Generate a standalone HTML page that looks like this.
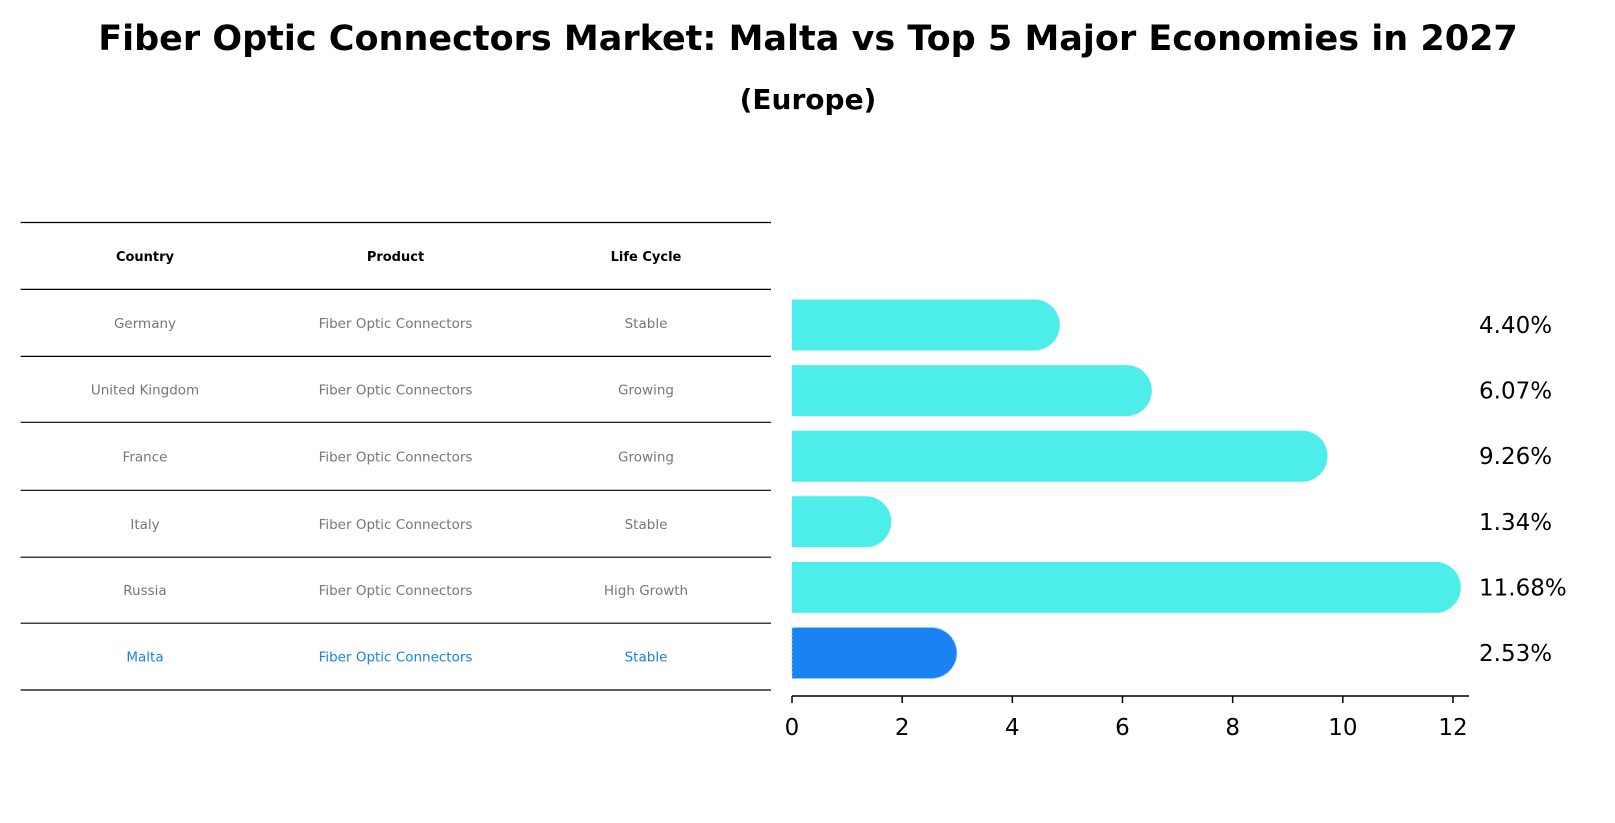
<!DOCTYPE html>
<html><head><meta charset="utf-8"><style>
body{margin:0;background:#fff;}
svg{display:block;font-family:"DejaVu Sans","Liberation Sans",sans-serif;}
</style></head><body>
<svg width="1615" height="823" viewBox="0 0 1615 823">
<text x="808" y="50" text-anchor="middle" font-size="35" font-weight="bold">Fiber Optic Connectors Market: Malta vs Top 5 Major Economies in 2027</text>
<text x="808" y="109" text-anchor="middle" font-size="28" font-weight="bold">(Europe)</text>
<g id="table"></g>
<g id="bars"></g>
</svg>
<script>
const countries=["Germany","United Kingdom","France","Italy","Russia","Malta"];
const products=["Fiber Optic Connectors","Fiber Optic Connectors","Fiber Optic Connectors","Fiber Optic Connectors","Fiber Optic Connectors","Fiber Optic Connectors"];
const lifecycles=["Stable","Growing","Growing","Stable","High Growth","Stable"];
const values=[4.40,6.07,9.26,1.34,11.68,2.53];
const ticks=[0,2,4,6,8,10,12];
const NS="http://www.w3.org/2000/svg";
function mk(tag,attrs,parent,txt){const e=document.createElementNS(NS,tag);for(const k in attrs)e.setAttribute(k,attrs[k]);if(txt!==undefined)e.textContent=txt;parent.appendChild(e);return e;}
const table=document.getElementById('table');
const lineY=[222.5,289.4,356.4,422.3,490.3,557.2,623.2,690];
const colX=[145,395.5,646];
lineY.forEach(y=>{const l=mk('line',{x1:20.6,x2:771,y1:y,y2:y,stroke:'#000','stroke-width':1.2},table);

});
["Country","Product","Life Cycle"].forEach((h,i)=>{const t=mk('text',{x:colX[i],y:(lineY[0]+lineY[1])/2+5,'text-anchor':'middle','font-size':13,'font-weight':'bold'},table,h);

});
countries.forEach((c,r)=>{const y=(lineY[r+1]+lineY[r+2])/2+5;const col=c==="Malta"?"#1a82e6":"#777";
[c,products[r],lifecycles[r]].forEach((v,i)=>{const t=mk('text',{x:colX[i],y:y,'text-anchor':'middle','font-size':13.5,fill:col},table,v);

});});
const g=document.getElementById('bars');
const x0=792,unit=(1453-792)/12;
const xs=v=>x0+v*unit;
const yc=i=>325+i*65.6;
const h=51,r=25.5;
values.forEach((v,i)=>{const xe=xs(v),top=yc(i)-h/2;const col=countries[i]==="Malta"?"#1a82f2":"#4deeea";
const p=mk('path',{d:`M${x0},${top} L${xe},${top} A${r},${r} 0 0 1 ${xe},${top+h} L${x0},${top+h} Z`,fill:col},g);
if(countries[i]==="Malta"){p.setAttribute('stroke','#9fd0ff');p.setAttribute('stroke-dasharray','2,2');p.setAttribute('stroke-width','1');}


const t=mk('text',{x:1479,y:yc(i)+8,'font-size':23},g,v.toFixed(2)+'%');

});
const ax=mk('line',{x1:x0,x2:1469,y1:696,y2:696,stroke:'#000','stroke-width':1.5},g);


ticks.forEach(t=>{const tk=mk('line',{x1:xs(t),x2:xs(t),y1:696,y2:703,stroke:'#000','stroke-width':1.5},g);


const l=mk('text',{x:xs(t),y:735,'text-anchor':'middle','font-size':23},g,String(t));

});
</script>
</body></html>
